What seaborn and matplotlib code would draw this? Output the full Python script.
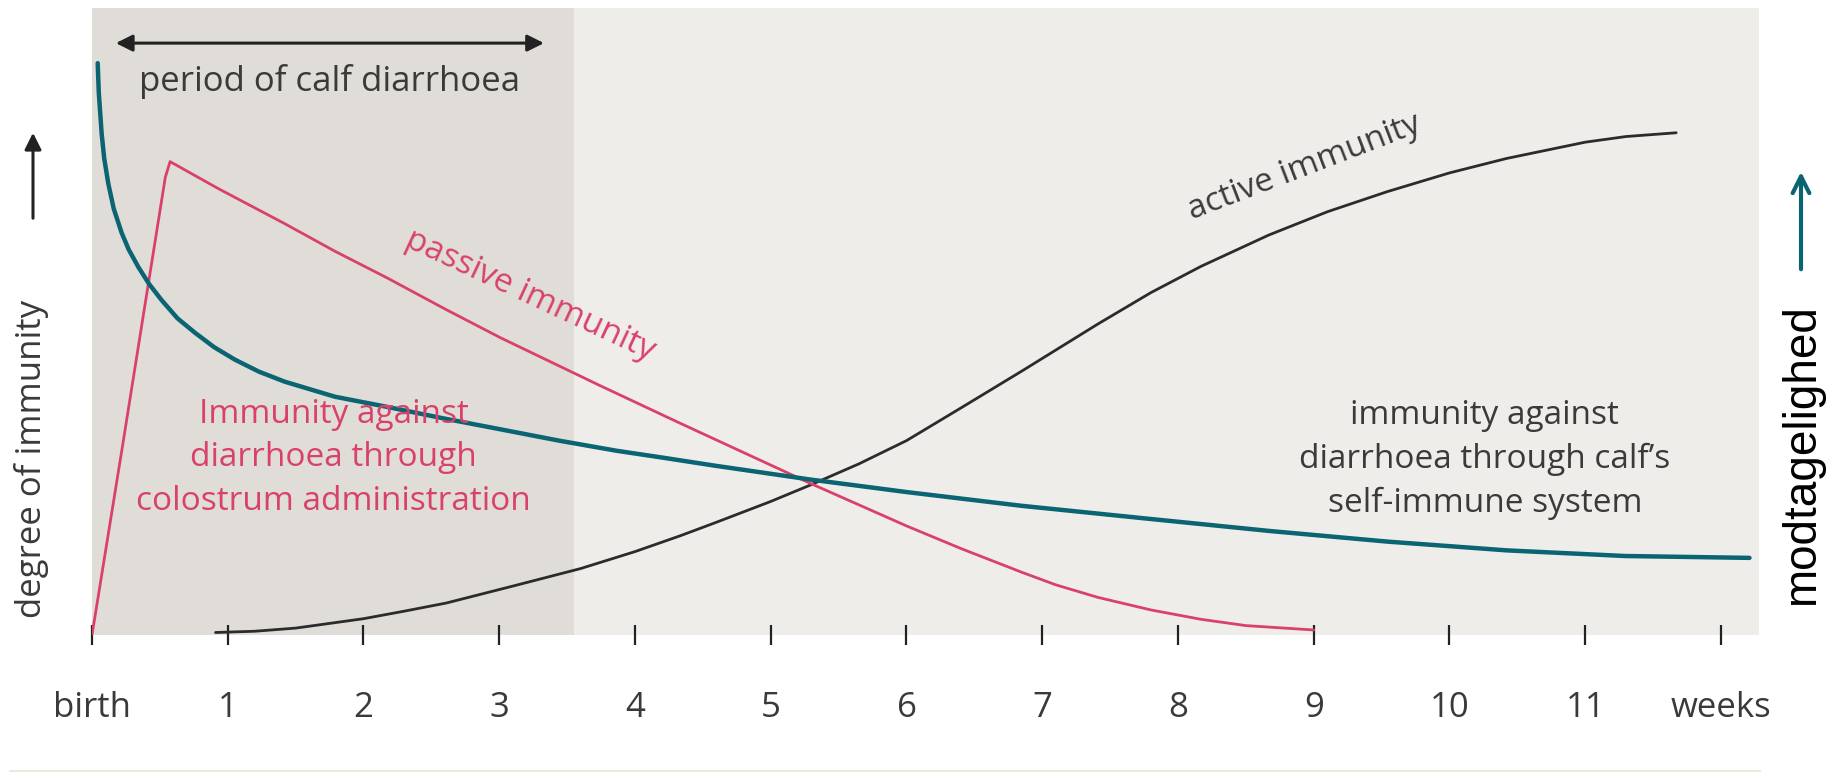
import matplotlib
matplotlib.use('Agg')
import matplotlib.pyplot as plt
from matplotlib.lines import Line2D
import seaborn as sns

# weeks after birth vs degree of immunity (0-100)
passive_weeks = [0, 0.22, 0.54, 0.575, 0.93, 1.42, 1.79, 2.17, 2.6, 3.01, 3.74, 4.33, 4.59,
                 5.29, 6.0, 6.4, 6.85, 7.1, 7.41, 7.8, 8.17, 8.5, 9.0]
passive_vals = [0, 29.5, 73.0, 75.5, 71.2, 65.6, 61.2, 57.0, 52.0, 47.4, 39.8, 33.8, 31.2,
                24.2, 17.4, 13.8, 10.0, 8.0, 6.0, 4.0, 2.5, 1.5, 0.8]

active_weeks = [0.91, 1.2, 1.5, 2.0, 2.3, 2.61, 3.1, 3.6, 4.0, 4.33, 4.59, 5.0, 5.29, 5.65,
                6.0, 6.4, 6.85, 7.41, 7.8, 8.17, 8.67, 9.1, 9.54, 10.0, 10.42, 11.0, 11.3, 11.67]
active_vals = [0.4, 0.6, 1.1, 2.6, 3.8, 5.1, 7.8, 10.6, 13.3, 15.8, 17.9, 21.3, 23.9, 27.3,
               31.0, 36.2, 42.1, 49.6, 54.6, 58.8, 63.8, 67.5, 70.7, 73.7, 76.0, 78.6, 79.5, 80.1]

suscept_weeks = [0.042, 0.05, 0.071, 0.09, 0.12, 0.16, 0.219, 0.27, 0.341, 0.42, 0.513, 0.63,
                 0.759, 0.9, 1.054, 1.23, 1.42, 1.79, 2.17, 2.6, 3.01, 3.44, 3.86, 4.2, 4.59,
                 5.29, 6.0, 6.85, 7.8, 8.67, 9.54, 10.42, 11.29, 12.21]
suscept_vals = [91.2, 86.5, 80.0, 76.0, 72.0, 68.0, 64.1, 61.5, 58.7, 56.0, 53.4, 50.5,
                48.2, 45.9, 43.9, 42.0, 40.4, 38.0, 36.4, 34.5, 32.8, 31.0, 29.4, 28.3, 27.0,
                24.8, 22.8, 20.6, 18.5, 16.6, 14.9, 13.5, 12.6, 12.3]

tick_weeks = list(range(13))
tick_labels = ['birth'] + [str(i) for i in range(1, 12)] + ['weeks']

diarrhoea_end = 3.55

PINK = '#d9416a'
TEAL = '#0b6472'
DARK = '#2b2b2b'
TXT = '#3a3a3a'

sns.set_theme(style='white')
plt.rcParams['font.family'] = ['Open Sans', 'DejaVu Sans']

fig = plt.figure(figsize=(18.45, 7.75), dpi=100)
ax = fig.add_axes([92 / 1845, 140 / 775, (1759 - 92) / 1845, (635 - 8) / 775])
ax.set_facecolor('#efedea')
ax.axvspan(0, diarrhoea_end, color='#e0ddd9', zorder=0, lw=0)

sns.lineplot(x=active_weeks, y=active_vals, ax=ax, color=DARK, lw=2.0, sort=False, estimator=None)
sns.lineplot(x=passive_weeks, y=passive_vals, ax=ax, color=PINK, lw=2.0, sort=False, estimator=None)
sns.lineplot(x=suscept_weeks, y=suscept_vals, ax=ax, color=TEAL, lw=3.2, sort=False, estimator=None)

ax.set_xlim(0, 12.28)
ax.set_ylim(0, 100)
for s in ax.spines.values():
    s.set_visible(False)
ax.set_yticks([])
ax.set_xticks(tick_weeks)
ax.set_xticklabels(tick_labels, fontsize=25, color=TXT)
ax.tick_params(axis='x', direction='inout', length=15, width=1.6, color='#222222', pad=33, bottom=True)
ax.set_xlabel('')
ax.set_ylabel('')

# period of calf diarrhoea
ax.annotate('', xy=(3.35, 94.4), xytext=(0.155, 94.4),
            arrowprops=dict(arrowstyle='<|-|>', color='#222222', lw=2.2, mutation_scale=25))
ax.text(1.75, 88.2, 'period of calf diarrhoea', fontsize=25, color=TXT, ha='center', va='center')

ax.text(3.23, 54.1, 'passive immunity', fontsize=24, color=PINK, rotation=-25,
        ha='center', va='center', rotation_mode='anchor')
ax.text(8.93, 74.6, 'active immunity', fontsize=24, color=TXT, rotation=21,
        ha='center', va='center', rotation_mode='anchor')

ax.text(1.78, 28.3, 'Immunity against\ndiarrhoea through\ncolostrum administration',
        fontsize=24, color=PINK, ha='center', va='center', multialignment='center', linespacing=1.42)
ax.text(10.26, 28.0, 'immunity against\ndiarrhoea through calf\u2019s\nself-immune system',
        fontsize=24, color=TXT, ha='center', va='center', multialignment='center', linespacing=1.42)

# left axis label and arrow
fig.text(32, 316, 'degree of immunity', fontsize=25, color=TXT, rotation=90,
         ha='center', va='center', transform=None)
ax.annotate('', xy=(33, 645), xytext=(33, 554), xycoords='figure pixels', textcoords='figure pixels',
            arrowprops=dict(arrowstyle='-|>', color='#222222', lw=2.2, mutation_scale=25),
            annotation_clip=False)

# right label and teal arrow
fig.text(1802, 320, 'modtagelighed', fontsize=33, color='black', rotation=90,
         ha='center', va='center', family='Liberation Sans', transform=None)
ax.annotate('', xy=(1801, 606), xytext=(1801, 503), xycoords='figure pixels', textcoords='figure pixels',
            arrowprops=dict(arrowstyle='->', color=TEAL, lw=3.0, mutation_scale=30),
            annotation_clip=False)

fig.add_artist(Line2D([10 / 1845, 1760 / 1845], [4 / 775, 4 / 775], transform=fig.transFigure,
                      color='#ebe8e0', lw=1.5))

fig.savefig('out.png', dpi=100, facecolor='white')
